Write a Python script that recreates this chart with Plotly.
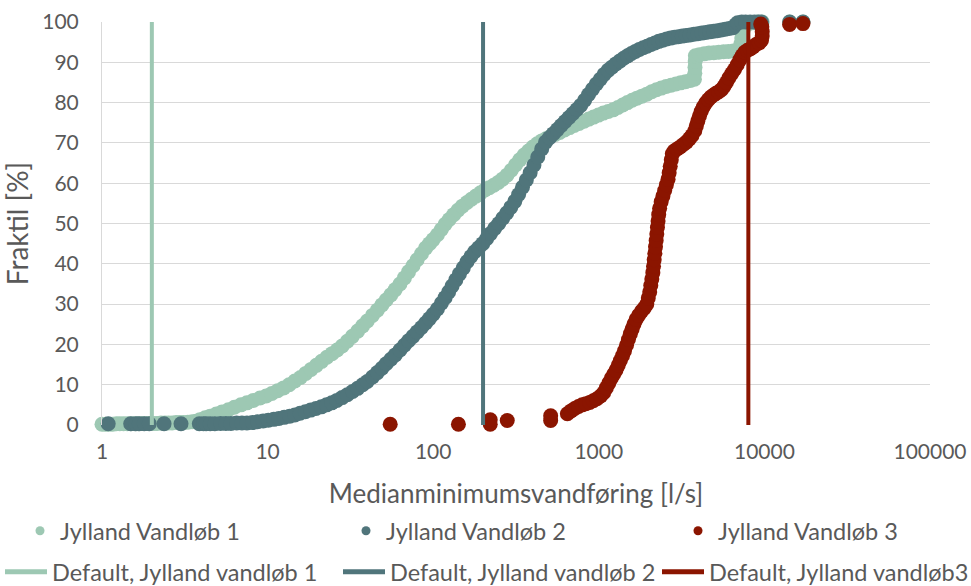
import plotly.graph_objects as go

# ---------------- data ----------------
J1_X = [1.0, 1.05, 1.1, 1.16, 1.22, 1.28, 1.35, 1.42, 1.5, 1.58, 1.66, 1.75, 1.85, 1.95, 2.05, 2.15,
        2.27, 2.4, 2.52, 2.65, 2.8, 2.95, 3.1, 3.3, 3.5, 3.7,
        3.9, 4.2, 4.5, 4.9, 5.3, 5.8, 6.3, 6.9, 7.5, 8.2, 9.0, 9.8, 10.6, 11.5, 12.5, 13.5, 14.6, 15.8,
        17.0, 18.3, 19.7, 21.2, 22.8, 24.5, 26.3, 28.2, 30.3, 32.5, 35, 37.5, 40, 43, 46, 49, 52, 55.5,
        59, 63, 67, 71, 75.5, 80, 85, 90, 95, 100, 106, 112, 118, 125, 133, 141, 150, 160, 170, 181, 193,
        205, 218, 232, 247, 262, 279, 296, 314, 333, 354, 376, 400, 425, 452, 480, 510, 545, 580, 620,
        665, 710, 760, 815, 870, 930, 995, 1065, 1140, 1220, 1305, 1395, 1490, 1590, 1700, 1820, 1950,
        2085, 2230, 2385, 2550, 2730, 2920, 3120, 3340, 3570, 3780, 3800, 3810, 3820, 3830, 4050, 4330,
        4630, 4950, 5300, 5670, 6060, 6480, 6900, 7200, 7300, 7400, 7600, 7950, 8500, 9100, 9700,
        14200, 17100]
J1_Y = [0.2, 0.2, 0.2, 0.2, 0.3, 0.3, 0.3, 0.3, 0.3, 0.3, 0.3, 0.4, 0.4, 0.4, 0.4, 0.4,
        0.5, 0.5, 0.5, 0.5, 0.6, 0.6, 0.6, 0.7, 0.8, 0.9,
        1.3, 1.8, 2.2, 2.7, 3.2, 3.8, 4.4, 5.0, 5.5, 6.1, 6.7, 7.2, 7.8, 8.5, 9.2, 10.0, 10.9, 11.8,
        12.8, 13.8, 14.8, 15.8, 16.8, 17.7, 18.6, 19.6, 20.8, 22.0, 23.3, 24.6, 25.8, 27.2, 28.5, 29.8,
        31.0, 32.3, 33.6, 35.0, 36.5, 38.0, 39.5, 41.0, 42.5, 43.9, 45.0, 46.0, 47.2, 48.5, 49.8, 51.0,
        52.2, 53.3, 54.3, 55.2, 56.0, 56.8, 57.6, 58.3, 58.9, 59.5, 60.2, 61.0, 62.0, 63.2, 64.5, 65.8,
        67.0, 68.0, 69.0, 69.8, 70.5, 71.0, 71.6, 72.1, 72.6, 73.2, 73.8, 74.3, 74.8, 75.4, 75.9, 76.4,
        76.9, 77.4, 77.8, 78.2, 78.8, 79.4, 80.0, 80.6, 81.1, 81.6, 82.1, 82.7, 83.2, 83.6, 84.0, 84.3,
        84.6, 84.9, 85.2, 85.5, 85.8, 87.3, 88.8, 90.3, 91.6, 91.9, 92.1, 92.3, 92.4, 92.5, 92.6, 92.7,
        92.8, 93.0, 94.5, 96.0, 97.5, 98.8, 99.5, 99.8, 100, 100, 100, 100]

J2_X = [1.09, 1.49, 1.6, 1.68, 1.8, 1.93, 2.37, 3.0, 3.87, 4.1,
        4.25, 4.5, 4.8, 5.2, 5.6, 6.0, 6.5, 7.0, 7.5, 8.1, 8.7, 9.4, 10.1, 10.9, 11.7, 12.6, 13.6, 14.6,
        15.7, 16.9, 18.2, 19.6, 21.1, 22.7, 24.4, 26.2, 28.2, 30.3, 32.6, 35.0, 37.5, 40, 43, 46, 49, 52,
        55.5, 59, 63, 67, 71, 75.5, 80, 85, 90, 95, 100, 106, 112, 118, 124, 130, 137, 144, 152, 160, 169,
        178, 188, 199, 210, 222, 235, 249, 263, 278, 294, 311, 328, 346, 365, 385, 406, 428, 452, 477,
        504, 532, 562, 593, 626, 661, 698, 737, 778, 821, 867, 915, 966, 1020, 1077, 1137, 1200, 1267,
        1338, 1413, 1492, 1575, 1663, 1756, 1854, 1957, 2066, 2181, 2303, 2432, 2568, 2711, 2862, 3022,
        3191, 3369, 3557, 3755, 3965, 4186, 4420, 4667, 4927, 5202, 5492, 5799, 6122, 6464, 6700, 6900,
        7300, 7700, 8200, 8700, 9200, 9600, 14200, 17100]
J2_Y = [0.3, 0.3, 0.3, 0.3, 0.3, 0.3, 0.3, 0.3, 0.3, 0.3,
        0.3, 0.3, 0.3, 0.4, 0.4, 0.4, 0.5, 0.5, 0.5, 0.6, 0.8, 1.0, 1.2, 1.4, 1.6, 1.9, 2.2, 2.5,
        2.9, 3.3, 3.7, 4.1, 4.5, 5.0, 5.5, 6.1, 6.8, 7.5, 8.3, 9.1, 10.0, 10.8, 11.9, 13.0, 14.1, 15.2,
        16.3, 17.4, 18.6, 19.8, 20.9, 22.0, 23.1, 24.2, 25.3, 26.4, 27.5, 28.8, 30.2, 31.6, 33.0, 34.5,
        36.0, 37.5, 39.0, 40.5, 41.8, 43.0, 44.0, 45.0, 46.2, 47.5, 48.8, 50.0, 51.3, 52.6, 54.0, 55.5,
        57.2, 59.0, 60.8, 62.6, 64.5, 66.5, 68.5, 70.2, 71.3, 72.3, 73.3, 74.3, 75.3, 76.3, 77.3, 78.3,
        79.3, 80.6, 82.0, 83.3, 84.6, 85.8, 87.0, 88.0, 88.8, 89.6, 90.3, 91.0, 91.6, 92.2, 92.7, 93.2,
        93.6, 94.0, 94.4, 94.8, 95.2, 95.5, 95.8, 96.0, 96.2, 96.35, 96.5, 96.65, 96.8, 96.95, 97.1,
        97.25, 97.4, 97.55, 97.7, 97.85, 98.0, 98.2, 98.4, 98.6, 99.3, 99.8, 100, 100, 100, 100, 100, 100,
        100, 100]

J3_X = [55, 142, 221, 221, 280, 512, 512,
        646, 680, 716, 754, 794, 836, 880, 926, 975, 1026, 1070, 1110, 1150, 1190, 1230, 1270, 1310,
        1350, 1390, 1430, 1470, 1510, 1550, 1590, 1630, 1680, 1740, 1810, 1880, 1950, 1990, 2030, 2060,
        2090, 2120, 2140, 2160, 2180, 2200, 2220, 2240, 2260, 2280, 2300, 2330, 2380, 2440, 2500, 2560,
        2620, 2660, 2700, 2740, 2780, 2850, 2970, 3100, 3240, 3380, 3520, 3650, 3800, 3880, 3960, 4050,
        4150, 4270, 4420, 4580, 4750, 4930, 5100, 5300, 5500, 5700, 5900, 6100, 6350, 6600, 6850, 7100,
        7350, 7600, 7900, 8200, 8550, 8900, 9300, 9600, 9700, 9700, 9650, 9500, 14200, 17100]
J3_Y = [0.2, 0.2, 0.2, 1.3, 1.1, 1.1, 2.3,
        2.8, 3.5, 4.1, 4.6, 5.0, 5.3, 5.6, 6.0, 6.5, 7.2, 8.0, 9.2, 10.4, 11.6, 12.6, 13.6, 14.8,
        16.0, 17.2, 18.4, 19.8, 21.2, 22.6, 23.8, 25.0, 26.2, 27.2, 28.2, 29.0, 30.0, 31.5, 33.0, 34.6,
        36.2, 37.8, 39.4, 41.0, 42.6, 44.2, 45.8, 47.4, 49.0, 50.6, 52.2, 53.8, 55.4, 56.8, 58.2, 59.6,
        61.0, 62.6, 64.2, 65.8, 67.3, 68.0, 68.5, 69.0, 69.6, 70.2, 71.0, 71.8, 73.0, 74.2, 75.4, 76.6,
        77.8, 78.9, 79.9, 80.7, 81.4, 81.9, 82.3, 82.7, 83.2, 84.0, 85.0, 86.1, 87.2, 88.2, 89.4, 90.6,
        91.7, 92.5, 93.0, 93.3, 93.8, 94.4, 94.8, 95.4, 96.5, 97.6, 98.8, 99.5, 99.4, 99.6]

SERIES_NAMES = ["Jylland Vandløb 1", "Jylland Vandløb 2", "Jylland Vandløb 3"]
LINE_NAMES = ["Default, Jylland vandløb 1", "Default, Jylland vandløb 2", "Default, Jylland vandløb3"]
VLINE_X = [2, 200, 8000]
VLINE_Y = [0, 100]

X_TICKVALS = [1, 10, 100, 1000, 10000, 100000]
X_TICKTEXT = ["1", "10", "100", "1000", "10000", "100000"]
Y_TICKVALS = [0, 10, 20, 30, 40, 50, 60, 70, 80, 90, 100]

COLORS = ["#9DC8B3", "#50757B", "#8B1500"]
FONT = "Lato"
TXT = "#595959"

# ---------------- figure ----------------
W, H = 971, 586
fig = go.Figure()

data = [(J1_X, J1_Y), (J2_X, J2_Y), (J3_X, J3_Y)]
for (xs, ys), c in zip(data, COLORS):
    fig.add_trace(go.Scatter(x=xs, y=ys, mode="markers", showlegend=False,
                             marker=dict(size=15, color=c, line=dict(width=0)),
                             cliponaxis=False, hoverinfo="skip"))

for xv, c in zip(VLINE_X, COLORS):
    fig.add_trace(go.Scatter(x=[xv, xv], y=VLINE_Y, mode="lines", showlegend=False,
                             line=dict(color=c, width=4), cliponaxis=False, hoverinfo="skip"))

# legend entries: row 1 (markers), row 2 (lines)
row1_x = [20, 346, 678]
row2_x = [-5, 338, 657]
row1_y, row2_y = 531, 572
for i, (name, c) in enumerate(zip(SERIES_NAMES, COLORS)):
    fig.add_trace(go.Scatter(x=[None], y=[None], mode="markers", name=name,
                             marker=dict(size=9, color=c), legend=f"legend{i + 1 if i else ''}"))
for i, (name, c) in enumerate(zip(LINE_NAMES, COLORS)):
    fig.add_trace(go.Scatter(x=[None], y=[None], mode="lines", name=name,
                             line=dict(color=c, width=5), legend=f"legend{i + 4}"))

leg_common = dict(orientation="h", xref="container", yref="container", xanchor="left",
                  yanchor="middle", bgcolor="rgba(0,0,0,0)", borderwidth=0,
                  font=dict(family=FONT, size=23.5, color=TXT))
legends = {}
for i in range(3):
    key = "legend" if i == 0 else f"legend{i + 1}"
    legends[key] = dict(leg_common, x=row1_x[i] / W, y=1 - row1_y / H, itemwidth=30)
for i in range(3):
    legends[f"legend{i + 4}"] = dict(leg_common, x=row2_x[i] / W, y=1 - row2_y / H, itemwidth=42)

fig.update_layout(
    width=W, height=H,
    margin=dict(l=102, r=41, t=22, b=161, autoexpand=False),
    paper_bgcolor="white", plot_bgcolor="white",
    font=dict(family=FONT, color=TXT),
    xaxis=dict(type="log", range=[0, 5], tickvals=X_TICKVALS, ticktext=X_TICKTEXT,
               showgrid=False, zeroline=False, showline=False, ticks="",
               ticklabelstandoff=12,
               tickfont=dict(family=FONT, size=21, color=TXT),
               title=dict(text="Medianminimumsvandføring [l/s]", standoff=22,
                          font=dict(family=FONT, size=26, color=TXT))),
    yaxis=dict(range=[0, 100], tickvals=Y_TICKVALS, showgrid=True, gridcolor="#D9D9D9",
               gridwidth=1, zeroline=False, showline=True, linecolor="#D9D9D9", linewidth=1,
               ticks="", ticklabelstandoff=18,
               tickfont=dict(family=FONT, size=21, color=TXT),
               title=dict(text="Fraktil [%]", standoff=6,
                          font=dict(family=FONT, size=28, color=TXT))),
    **legends,
)

fig.write_html("out.html", config={"displayModeBar": False},
               post_script="document.body.style.margin='0px';document.body.style.overflow='hidden';")
